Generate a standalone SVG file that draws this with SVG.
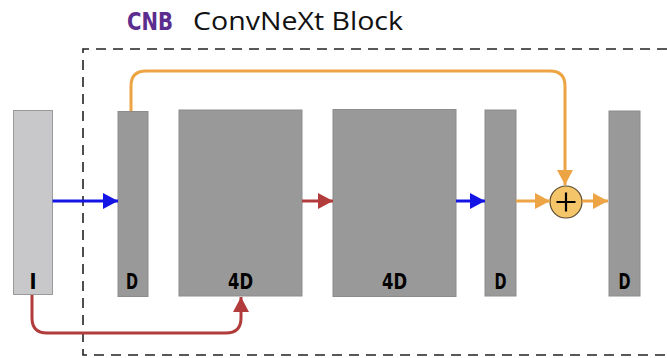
<svg xmlns="http://www.w3.org/2000/svg" width="667" height="358" viewBox="0 0 667 358">
  <defs>
    <style>
      .blk { fill: #999999; stroke: #8c8c8c; stroke-width: 1; }
      .inp { fill: #c8c8ca; stroke: #9a9a9a; stroke-width: 1; }
      .lbl { font-family: "DejaVu Sans Condensed", "DejaVu Sans", sans-serif; font-weight: bold; font-size: 21px; fill: #000; text-anchor: middle; }
      .wire { fill: none; stroke-width: 3; }
      .blue { stroke: #1414e6; }
      .red { stroke: #b23b3b; }
      .orange { stroke: #eda445; }
      .frame { fill: none; stroke: #222; stroke-width: 1.6; stroke-dasharray: 10 7; }
    </style>
    <marker id="ah-blue" markerUnits="userSpaceOnUse" markerWidth="16" markerHeight="16" refX="15" refY="8" orient="auto">
      <path d="M0,0 L15,8 L0,16 Z" fill="#1414e6"/>
    </marker>
    <marker id="ah-red" markerUnits="userSpaceOnUse" markerWidth="16" markerHeight="16" refX="15" refY="8" orient="auto">
      <path d="M0,0 L15,8 L0,16 Z" fill="#b23b3b"/>
    </marker>
    <marker id="ah-orange" markerUnits="userSpaceOnUse" markerWidth="16" markerHeight="16" refX="15" refY="8" orient="auto">
      <path d="M0,0 L15,8 L0,16 Z" fill="#eda445"/>
    </marker>
  </defs>

  <rect width="667" height="358" fill="#ffffff"/>

  <!-- title -->
  <g id="title">
    <text x="127" y="30" font-family="DejaVu Sans Condensed, DejaVu Sans, sans-serif" font-weight="bold" font-size="24" fill="#5b2d8e" textLength="46" lengthAdjust="spacingAndGlyphs">CNB</text>
    <text x="193" y="30" font-family="Open Sans, Noto Sans, sans-serif" font-size="25" fill="#111" textLength="210" lengthAdjust="spacingAndGlyphs">ConvNeXt Block</text>
  </g>

  <!-- dashed block outline (open on the right) -->
  <path id="frame" class="frame" d="M667,49 H83 V355 H667"/>

  <!-- layers -->
  <g id="input">
    <rect class="inp" x="13.5" y="110.5" width="39" height="184"/>
    <text class="lbl" x="33" y="289">I</text>
  </g>
  <g id="d1">
    <rect class="blk" x="118" y="111.5" width="30" height="185"/>
    <text class="lbl" x="132" y="289" textLength="12" lengthAdjust="spacingAndGlyphs">D</text>
  </g>
  <g id="fourd1">
    <rect class="blk" x="179" y="110" width="123" height="186"/>
    <text class="lbl" x="240.5" y="289" textLength="25" lengthAdjust="spacingAndGlyphs">4D</text>
  </g>
  <g id="fourd2">
    <rect class="blk" x="333" y="109.5" width="123" height="187"/>
    <text class="lbl" x="394.5" y="289" textLength="25" lengthAdjust="spacingAndGlyphs">4D</text>
  </g>
  <g id="d2">
    <rect class="blk" x="485" y="110" width="31" height="186"/>
    <text class="lbl" x="500.5" y="289" textLength="12" lengthAdjust="spacingAndGlyphs">D</text>
  </g>
  <g id="d3">
    <rect class="blk" x="609" y="111" width="31" height="185"/>
    <text class="lbl" x="624.5" y="289" textLength="12" lengthAdjust="spacingAndGlyphs">D</text>
  </g>
  <g id="add">
    <circle cx="566" cy="202" r="16" fill="#f5c56a" stroke="#5a4a30" stroke-width="1.2"/>
    <path d="M556.5,202 H575.5 M566,192.5 V211.5" stroke="#000" stroke-width="2.2"/>
  </g>

  <!-- connectors -->
  <g id="connectors">
    <path class="wire blue" d="M52.5,201 H118" marker-end="url(#ah-blue)"/>
    <path class="wire red" d="M302,201 H333" marker-end="url(#ah-red)"/>
    <path class="wire blue" d="M456,201 H485" marker-end="url(#ah-blue)"/>
    <path class="wire orange" d="M516,201 H550" marker-end="url(#ah-orange)"/>
    <path class="wire orange" d="M582,201 H608" marker-end="url(#ah-orange)"/>
    <path class="wire orange" d="M131,111 V86 Q131,71 146,71 H550 Q565,71 565,86 V185" marker-end="url(#ah-orange)"/>
    <path class="wire red" d="M32,295 V318 Q32,333 47,333 H226 Q241,333 241,318 V297" marker-end="url(#ah-red)"/>
  </g>
</svg>
